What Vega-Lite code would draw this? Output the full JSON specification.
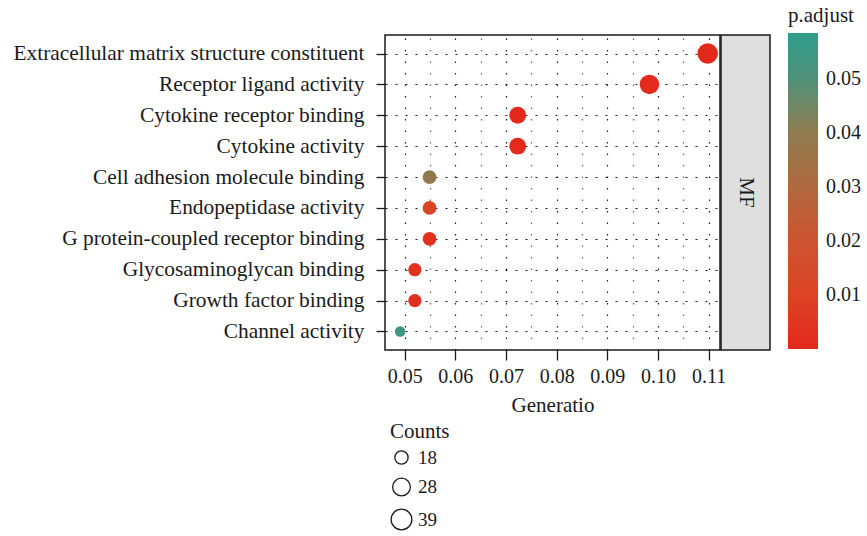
{
  "$schema": "https://vega.github.io/schema/vega-lite/v6.json",
  "autosize": {"type": "pad"},
  "padding": {"left": 12, "top": 5, "right": 0, "bottom": 0},
  "background": "white",
  "bounds": "flush",
  "config": {
    "font": "Liberation Serif",
    "view": {"stroke": "#1a1a1a", "strokeWidth": 1.5},
    "axis": {"labelColor": "#1a1a1a", "titleColor": "#1a1a1a", "tickColor": "#1a1a1a", "titleFontWeight": "normal", "domain": false, "labelLimit": 0},
    "legend": {"labelColor": "#1a1a1a", "titleColor": "#1a1a1a", "titleFontWeight": "normal"}
  },
  "spacing": 1,
  "hconcat": [
    {
      "width": 335,
      "height": 315,
      "data": {
        "values": [
          {"Description": "Extracellular matrix structure constituent", "GeneRatio": 0.1098, "Count": 38, "p_adjust": 0.0005},
          {"Description": "Receptor ligand activity", "GeneRatio": 0.0983, "Count": 34, "p_adjust": 0.0008},
          {"Description": "Cytokine receptor binding", "GeneRatio": 0.0723, "Count": 25, "p_adjust": 0.0006},
          {"Description": "Cytokine activity", "GeneRatio": 0.0723, "Count": 25, "p_adjust": 0.0008},
          {"Description": "Cell adhesion molecule binding", "GeneRatio": 0.0549, "Count": 19, "p_adjust": 0.039},
          {"Description": "Endopeptidase activity", "GeneRatio": 0.0549, "Count": 19, "p_adjust": 0.012},
          {"Description": "G protein-coupled receptor binding", "GeneRatio": 0.0549, "Count": 19, "p_adjust": 0.003},
          {"Description": "Glycosaminoglycan binding", "GeneRatio": 0.052, "Count": 18, "p_adjust": 0.004},
          {"Description": "Growth factor binding", "GeneRatio": 0.052, "Count": 18, "p_adjust": 0.003},
          {"Description": "Channel activity", "GeneRatio": 0.0491, "Count": 17, "p_adjust": 0.054}
        ]
      },
      "mark": {"type": "circle", "opacity": 1},
      "encoding": {
        "x": {
          "field": "GeneRatio",
          "type": "quantitative",
          "title": "Generatio",
          "scale": {"domain": [0.04611, 0.11223], "nice": false, "zero": false},
          "axis": {
            "values": [0.05, 0.055, 0.06, 0.065, 0.07, 0.075, 0.08, 0.085, 0.09, 0.095, 0.1, 0.105, 0.11],
            "labelExpr": "abs(datum.value * 100 - round(datum.value * 100)) < 0.01 ? format(datum.value, '.2f') : ''",
            "tickOpacity": {"condition": {"test": "abs(datum.value * 100 - round(datum.value * 100)) > 0.01", "value": 0}, "value": 1},
            "tickSize": 10,
            "tickWidth": 1.3,
            "labelFontSize": 20,
            "labelPadding": 6,
            "labelOverlap": false,
            "titleFontSize": 21,
            "titlePadding": 8,
            "grid": true,
            "gridColor": {"condition": {"test": "abs(datum.value * 100 - round(datum.value * 100)) > 0.01", "value": "#666666"}, "value": "#1a1a1a"},
            "gridDash": [1.5, 10],
            "gridWidth": 1.2
          }
        },
        "y": {
          "field": "Description",
          "type": "nominal",
          "sort": null,
          "title": null,
          "scale": {"padding": 0.6},
          "axis": {
            "tickSize": 9,
            "tickWidth": 1.3,
            "labelFontSize": 21.4,
            "labelPadding": 12,
            "grid": true,
            "gridColor": "#1a1a1a",
            "gridDash": [2, 8],
            "gridWidth": 1.1
          }
        },
        "color": {
          "field": "p_adjust",
          "type": "quantitative",
          "scale": {
            "domain": [0.0001, 0.01, 0.02, 0.03, 0.04, 0.05, 0.0584],
            "range": ["#e3281c", "#dc4324", "#cd5430", "#b0683f", "#8e7b4e", "#50917a", "#2f9e8c"],
            "interpolate": "rgb"
          },
          "legend": {
            "title": "p.adjust",
            "orient": "none",
            "legendX": 403,
            "legendY": -30,
            "direction": "vertical",
            "gradientLength": 316,
            "gradientThickness": 30,
            "gradientStrokeWidth": 0,
            "values": [0.01, 0.02, 0.03, 0.04, 0.05],
            "format": ".2f",
            "labelFontSize": 20,
            "labelOffset": 8,
            "labelOverlap": false,
            "titleFontSize": 21,
            "titlePadding": 7
          }
        },
        "size": {
          "field": "Count",
          "type": "quantitative",
          "scale": {"domain": [17, 18, 25, 39], "range": [110, 175, 285, 430]},
          "legend": {
            "title": "Counts",
            "orient": "none",
            "legendX": 5,
            "legendY": 386,
            "direction": "vertical",
            "values": [18, 28, 39],
            "symbolType": "circle",
            "symbolFillColor": "transparent",
            "symbolStrokeColor": "#1a1a1a",
            "symbolStrokeWidth": 1.3,
            "labelFontSize": 19,
            "labelOffset": 5,
            "rowPadding": 7,
            "titleFontSize": 21,
            "titlePadding": 6
          }
        }
      }
    },
    {
      "width": 49,
      "height": 315,
      "view": {"fill": "#e0dfe0", "stroke": "#1a1a1a", "strokeWidth": 1.5},
      "data": {"values": [{"ontology": "MF"}]},
      "mark": {"type": "text", "angle": 90, "fontSize": 21, "color": "#1a1a1a", "align": "center", "baseline": "middle"},
      "encoding": {"text": {"field": "ontology", "type": "nominal"}}
    }
  ]
}
